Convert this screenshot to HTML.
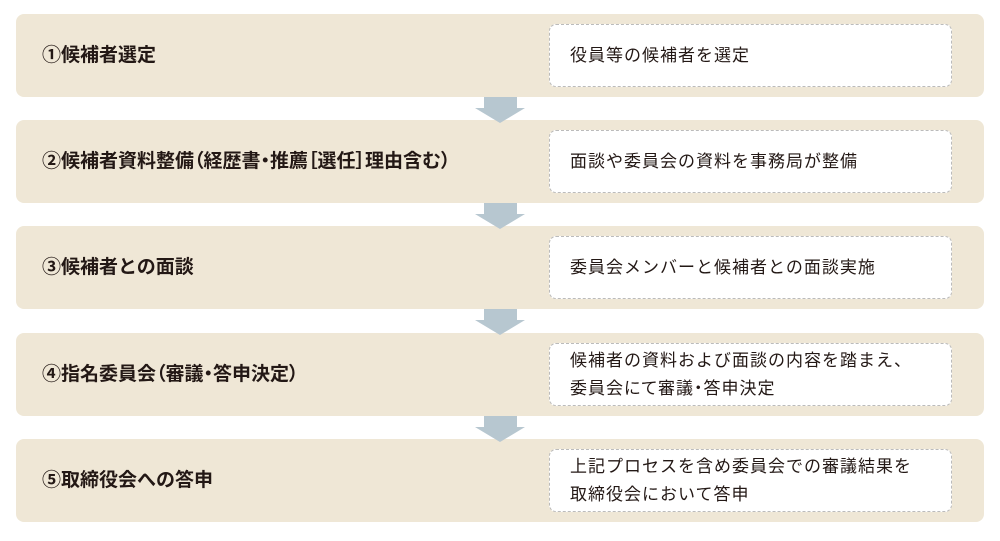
<!DOCTYPE html><html><head><meta charset="utf-8"><style>
body{margin:0;width:1000px;height:541px;background:#fff;position:relative;font-family:"Liberation Sans","Noto Sans CJK JP",sans-serif;overflow:hidden}
.row{position:absolute;left:16px;width:968px;height:83px;background:#efe7d6;border-radius:8px}
.t{position:absolute;left:26px;top:0;line-height:83px;font-size:19px;font-weight:bold;color:#231815;white-space:nowrap}
.p{font-feature-settings:"palt"}
.b{position:absolute;left:533px;top:10px;width:403px;height:63px;background:#fff;border:1px dashed #bbb;border-radius:7px;font-size:17px;letter-spacing:1px;color:#231815;display:flex;flex-direction:column;justify-content:center;padding-left:20px;box-sizing:border-box;line-height:28px;white-space:nowrap}
.ar{position:absolute;left:475px;width:50px;height:26px}
</style></head><body>
<div class="row" style="top:14px"><div class="t">①候補者選定</div><div class="b">役員等の候補者を選定</div></div>
<div class="row" style="top:120px"><div class="t p">②候補者資料整備（経歴書・推薦［選任］理由含む）</div><div class="b">面談や委員会の資料を事務局が整備</div></div>
<div class="row" style="top:226px"><div class="t">③候補者との面談</div><div class="b">委員会メンバーと候補者との面談実施</div></div>
<div class="row" style="top:333px"><div class="t p">④指名委員会（審議・答申決定）</div><div class="b"><div>候補者の資料および面談の内容を踏まえ、</div><div class="p">委員会にて審議・答申決定</div></div></div>
<div class="row" style="top:439px"><div class="t">⑤取締役会への答申</div><div class="b"><div>上記プロセスを含め委員会での審議結果を</div><div>取締役会において答申</div></div></div>
<svg class="ar" style="top:97px" viewBox="0 0 50 26"><polygon points="9,0 42,0 42,11 50,11 25,26 0,11 9,11" fill="#b7c7d0"/></svg>
<svg class="ar" style="top:203px" viewBox="0 0 50 26"><polygon points="9,0 42,0 42,11 50,11 25,26 0,11 9,11" fill="#b7c7d0"/></svg>
<svg class="ar" style="top:309px" viewBox="0 0 50 26"><polygon points="9,0 42,0 42,11 50,11 25,26 0,11 9,11" fill="#b7c7d0"/></svg>
<svg class="ar" style="top:416px" viewBox="0 0 50 26"><polygon points="9,0 42,0 42,11 50,11 25,26 0,11 9,11" fill="#b7c7d0"/></svg>
</body></html>
